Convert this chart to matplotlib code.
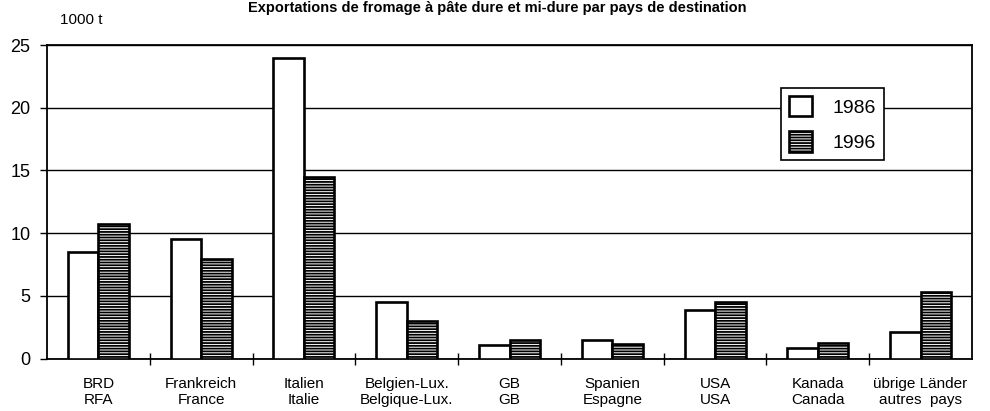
import matplotlib
matplotlib.use("Agg")
import matplotlib.pyplot as plt
import numpy as np

plt.rcParams['font.family'] = ['Liberation Sans', 'DejaVu Sans']
plt.rcParams['hatch.linewidth'] = 1.3

# Hard and semi-hard cheese exports by destination, in 1000 t
countries = ["BRD\nRFA", "Frankreich\nFrance", "Italien\nItalie",
             "Belgien-Lux.\nBelgique-Lux.", "GB\nGB", "Spanien\nEspagne",
             "USA\nUSA", "Kanada\nCanada", "übrige Länder\nautres  pays"]
years = ["1986", "1996"]
exports_1986 = [8.5, 9.5, 24.0, 4.5, 1.1, 1.5, 3.9, 0.85, 2.1]
exports_1996 = [10.75, 7.9, 14.5, 3.0, 1.5, 1.15, 4.5, 1.25, 5.3]
y_ticks = [0, 5, 10, 15, 20, 25]

fig = plt.figure(figsize=(9.9, 4.11), dpi=100)
ax = fig.add_axes([47 / 990, 1 - 358.5 / 411, 925 / 990, 313.5 / 411])

x = np.arange(len(countries))
w = 0.297
ax.bar(x - w / 2, exports_1986, width=w, facecolor="white", edgecolor="black",
       linewidth=1.9, label=years[0], zorder=3)
ax.bar(x + w / 2, exports_1996, width=w, facecolor="white", edgecolor="black",
       hatch="------", linewidth=1.9, label=years[1], zorder=3)

ax.set_xlim(-0.5, len(countries) - 0.5)
ax.set_ylim(0, 25)

# horizontal grid
ax.set_yticks(y_ticks)
ax.yaxis.grid(True, color="black", linewidth=1.0, zorder=1)
ax.set_axisbelow(True)
ax.tick_params(axis="y", direction="out", length=5, width=1.0, pad=7,
               labelsize=13)

# category separators as crossing ticks, labels at centres
ax.set_xticks(np.arange(0.5, len(countries) - 1, 1.0))
ax.set_xticklabels([])
ax.tick_params(axis="x", which="major", direction="inout", length=9, width=1.0)
ax.set_xticks(x, minor=True)
ax.set_xticklabels(countries, minor=True, fontsize=11)
ax.tick_params(axis="x", which="minor", length=0, pad=13)

for s in ax.spines.values():
    s.set_linewidth(1.3)
    s.set_color("black")

leg = ax.legend(loc="upper left", bbox_to_anchor=(0.7935, 0.863),
                fontsize=14, frameon=True, fancybox=False, shadow=False,
                edgecolor="black", framealpha=1, handlelength=1.18,
                handleheight=1.22, handletextpad=1.05, labelspacing=0.75,
                borderpad=0.42, borderaxespad=0)
leg.get_frame().set_linewidth(1.2)

fig.text(60 / 990, 1 - 23.5 / 411, "1000 t", fontsize=11, ha="left",
         va="baseline")
fig.text(497 / 990, 1 - 1 / 411,
         "Exportations de fromage à pâte dure et mi-dure par pays de destination",
         fontsize=10.5, fontweight="bold", ha="center", va="top")

fig.savefig("out.png", dpi=100)
